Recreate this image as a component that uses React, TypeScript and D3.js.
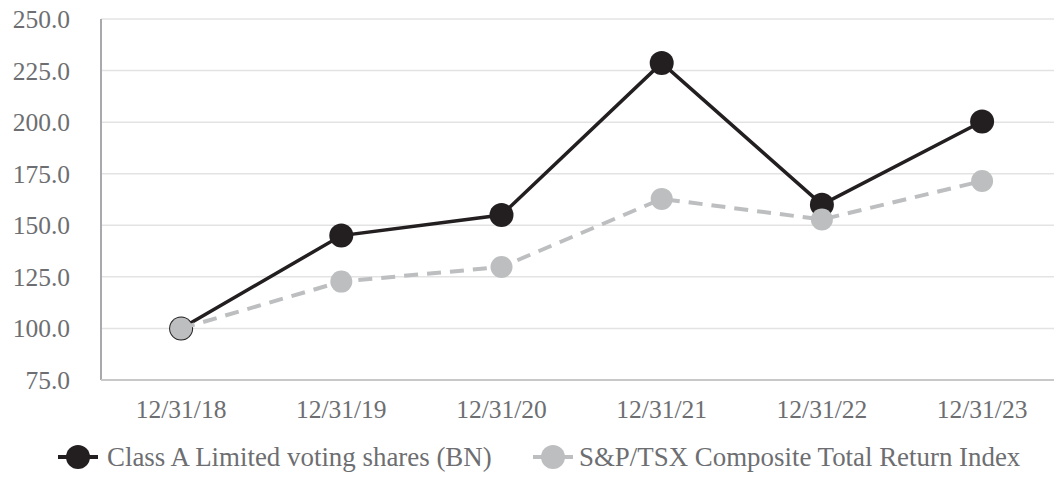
import React, { useEffect, useRef } from 'react';
import * as d3 from 'd3';

// chart data
const dates = ['12/31/18', '12/31/19', '12/31/20', '12/31/21', '12/31/22', '12/31/23'];
const classAValues = [100, 145, 155, 228.7, 160, 200.3];
const tsxValues = [100, 122.7, 129.8, 162.8, 152.8, 171.5];
const yTicks = [75, 100, 125, 150, 175, 200, 225, 250];
const seriesNames = ['Class A Limited voting shares (BN)', 'S&P/TSX Composite Total Return Index'];

const FONT = '"Liberation Serif", "Times New Roman", serif';
const TEXT_COLOR = '#6d6e71';
const BLACK = '#231f20';
const GRAY = '#bcbec0';

export default function App() {
  const ref = useRef<SVGSVGElement>(null);

  useEffect(() => {
    const svg = d3.select(ref.current);
    svg.selectAll('*').remove();

    const width = 1054;
    const left = 101;
    const top = 19;
    const bottom = 380;

    const x = d3.scaleBand<string>().domain(dates).range([left, left + 6 * 160.2]);
    const y = d3.scaleLinear().domain([75, 250]).range([bottom, top]);
    const cx = (d: string) => (x(d) as number) + x.bandwidth() / 2;

    // gridlines
    svg.append('g')
      .selectAll('line')
      .data(yTicks.filter(t => t !== 75))
      .enter().append('line')
      .attr('x1', left).attr('x2', width)
      .attr('y1', d => y(d)).attr('y2', d => y(d))
      .attr('stroke', '#e3e3e3').attr('stroke-width', 1.5);

    // axis lines
    svg.append('line')
      .attr('x1', left).attr('x2', left).attr('y1', top).attr('y2', bottom)
      .attr('stroke', '#a7a9ac').attr('stroke-width', 2);
    svg.append('line')
      .attr('x1', left).attr('x2', width).attr('y1', bottom).attr('y2', bottom)
      .attr('stroke', '#c8c8c8').attr('stroke-width', 2);

    // y tick labels
    svg.append('g')
      .selectAll('text')
      .data(yTicks)
      .enter().append('text')
      .attr('x', 70).attr('y', d => y(d) + 9)
      .attr('text-anchor', 'end')
      .attr('font-family', FONT).attr('font-size', 25.5).attr('fill', TEXT_COLOR)
      .text(d => d3.format('.1f')(d));

    // x tick labels
    svg.append('g')
      .selectAll('text')
      .data(dates)
      .enter().append('text')
      .attr('x', d => cx(d)).attr('y', 418)
      .attr('text-anchor', 'middle')
      .attr('font-family', FONT).attr('font-size', 25.5).attr('fill', TEXT_COLOR)
      .text(d => d);

    const line = d3.line<number>()
      .x((_, i) => cx(dates[i]))
      .y(d => y(d));

    // black series
    svg.append('path')
      .datum(classAValues)
      .attr('d', line)
      .attr('fill', 'none').attr('stroke', BLACK).attr('stroke-width', 3.5);
    svg.append('g')
      .selectAll('circle')
      .data(classAValues)
      .enter().append('circle')
      .attr('cx', (_, i) => cx(dates[i])).attr('cy', d => y(d))
      .attr('r', 12).attr('fill', BLACK);

    // gray dashed series
    svg.append('path')
      .datum(tsxValues)
      .attr('d', line)
      .attr('fill', 'none').attr('stroke', GRAY).attr('stroke-width', 4)
      .attr('stroke-dasharray', '14,9');
    svg.append('g')
      .selectAll('circle')
      .data(tsxValues)
      .enter().append('circle')
      .attr('cx', (_, i) => cx(dates[i])).attr('cy', d => y(d))
      .attr('r', 11).attr('fill', GRAY);

    // legend
    const legend = [
      { name: seriesNames[0], color: BLACK, lx: 58, tx: 107 },
      { name: seriesNames[1], color: GRAY, lx: 533, tx: 579 },
    ];
    const lg = svg.append('g');
    legend.forEach(l => {
      lg.append('line')
        .attr('x1', l.lx).attr('x2', l.lx + 40).attr('y1', 457).attr('y2', 457)
        .attr('stroke', l.color).attr('stroke-width', 4);
      lg.append('circle')
        .attr('cx', l.lx + 20).attr('cy', 457).attr('r', 12).attr('fill', l.color);
      lg.append('text')
        .attr('x', l.tx).attr('y', 466)
        .attr('font-family', FONT).attr('font-size', 26.9).attr('fill', TEXT_COLOR)
        .text(l.name);
    });
  }, []);

  return (
    <svg ref={ref} width={1054} height={496}
      style={{ position: 'absolute', left: 0, top: 0, background: '#fff' }} />
  );
}
